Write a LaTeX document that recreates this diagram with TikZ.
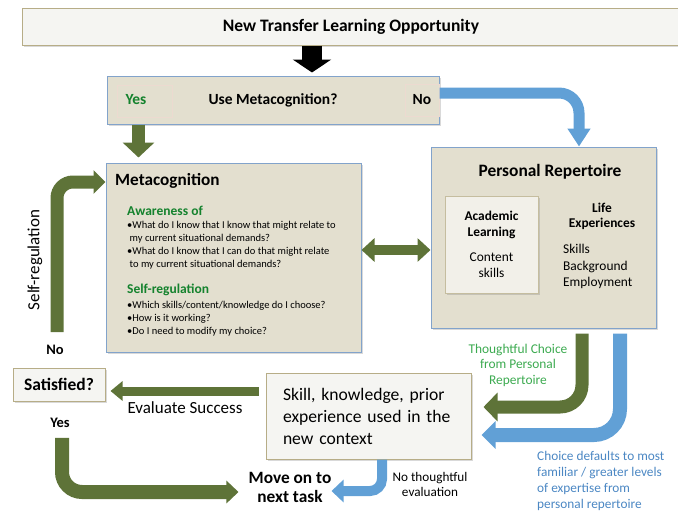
\documentclass[tikz,border=0pt]{standalone}
\usepackage{fontspec}
\setmainfont{Carlito}
\usepackage{xcolor}
\usetikzlibrary{calc}
\usetikzlibrary{positioning,arrows.meta}
\usetikzlibrary{shapes,shadows}
\definecolor{boxfill}{RGB}{227,223,207}
\definecolor{boxline}{RGB}{130,163,203}
\definecolor{tanline}{RGB}{183,173,135}
\definecolor{palefill}{RGB}{245,245,242}
\definecolor{acadfill}{RGB}{242,240,233}
\definecolor{pinkline}{RGB}{236,218,208}
\definecolor{arrowgreen}{RGB}{94,115,56}
\definecolor{arrowblue}{RGB}{97,160,214}
\definecolor{textgreen}{RGB}{20,130,45}
\definecolor{lightgreen}{RGB}{60,170,80}
\definecolor{textblue}{RGB}{75,135,195}
\newcommand{\fsz}[2]{\fontsize{#1}{#2}\selectfont}
\tikzset{
  bluebox/.style={draw=boxline, fill=boxfill, line width=1pt,
    drop shadow={shadow xshift=1.5pt, shadow yshift=-1.5pt, opacity=0.3}},
  palebox/.style={draw=tanline, fill=palefill, line width=1pt,
    drop shadow={shadow xshift=1.5pt, shadow yshift=-1.5pt, opacity=0.3}},
  label/.style={inner sep=0pt},
  greenarrow/.style={draw=arrowgreen, line width=13pt},
  bluearrow/.style={draw=arrowblue, line width=11pt},
}

\begin{document}
\begin{tikzpicture}[x=1pt,y=-1pt]
\useasboundingbox (0,0) rectangle (678,515);

% boxes
\node[palebox, minimum width=658pt, minimum height=37pt] (top) at (351,26.5)
  {\fsz{17.5}{20}\bfseries New Transfer Learning Opportunity};
\node[bluebox, minimum width=332pt, minimum height=48pt] (use) at (273,100)
  {\fsz{15.5}{18}\bfseries Use Metacognition?};
\node[draw=pinkline, line width=0.6pt, minimum width=55pt, minimum height=32pt] (yesbox) at (144.5,101) {};
\node[label, font=\fsz{15.5}{18}\bfseries, text=textgreen] (yes) at (136,100) {Yes};
\node[draw=pinkline, line width=0.6pt, minimum width=34pt, minimum height=32pt,
  font=\fsz{15.5}{18}\bfseries] (nobox) at (422,100) {No};

\node[bluebox, minimum width=255pt, minimum height=189pt] (meta) at (233.5,257.5) {};
\node[label, anchor=west, font=\fsz{17.2}{20}\bfseries] (metatitle) at (115,181) {Metacognition};
\node[label, anchor=north west, align=left, font=\fsz{10.5}{13}] (aware) at (127,205.5)
  {{\fsz{13.5}{13}\bfseries\color{textgreen}Awareness of}\\
   •What do I know that I know that might relate to\\
   \hspace{2.5pt}my current situational demands?\\
   •What do I know that I can do that might relate\\
   \hspace{2.5pt}to my current situational demands?};
\node[label, anchor=north west, align=left, font=\fsz{10.5}{13}] (regul) at (127,283.5)
  {{\fsz{13.5}{15}\bfseries\color{textgreen}Self-regulation}\\[2pt]
   •Which skills/content/knowledge do I choose?\\
   •How is it working?\\
   •Do I need to modify my choice?};

\node[bluebox, minimum width=225pt, minimum height=181pt] (rep) at (543.5,237.5) {};
\node[label, font=\fsz{17.4}{20}\bfseries] (reptitle) at (550,172) {Personal Repertoire};
\node[draw=tanline!80, fill=acadfill, line width=1pt, minimum width=93pt, minimum height=97pt,
  align=center, font=\fsz{13.4}{15.5},
  drop shadow={shadow xshift=1.5pt, shadow yshift=-1.5pt, opacity=0.3}] (acad) at (491.5,244.5)
  {\bfseries Academic\\\bfseries Learning\\[10pt]Content\\skills};
\node[label, align=center, font=\fsz{13.4}{15}\bfseries] (life) at (602,216.5) {Life\\Experiences};
\node[label, anchor=west, align=left, font=\fsz{13.4}{16.5}] (lifelist) at (563,266.5)
  {Skills\\Background\\Employment};

\node[palebox, minimum width=92pt, minimum height=33pt, font=\fsz{17.5}{20}\bfseries] (sat) at (59,384.5) {Satisfied?};
\node[palebox, minimum width=205pt, minimum height=86pt, text width=171pt, align=left,
  font=\fsz{17.6}{22}] (skill) at (368.5,416)
  {Skill, knowledge, prior\\experience used in the\\new context};
\node[label, align=center, font=\fsz{17.3}{19}\bfseries] (move) at (290,487.5) {Move on to\\next task};

% labels
\node[label, rotate=90, font=\fsz{17}{20}] (selfreg) at (35,260) {Self-regulation};
\node[label, font=\fsz{14.5}{17}\bfseries] (nolabel) at (55,350) {No};
\node[label, font=\fsz{14.5}{17}\bfseries] (yeslabel) at (60,423) {Yes};
\node[label, font=\fsz{17}{20}] (evallabel) at (185,408) {Evaluate Success};
\node[label, align=center, font=\fsz{13.2}{15}] (nothought) at (430,484.5) {No thoughtful\\evaluation};
\node[label, align=center, font=\fsz{13.4}{15.5}, text=lightgreen] (thoughtful) at (518,365)
  {Thoughtful Choice\\from Personal\\Repertoire};
\node[label, anchor=west, align=left, font=\fsz{13.3}{16}, text=textblue] (defaults) at (537,481)
  {Choice defaults to most\\familiar / greater levels\\of expertise from\\personal repertoire};

% arrows
\draw[line width=20pt, -{Triangle[width=38pt,length=13pt]}, shorten >=3pt]
  ([xshift=-39pt]top.south) -- ([xshift=39pt]use.north);
\draw[greenarrow, -{Triangle[width=31pt,length=15pt]}, shorten >=5pt]
  ([xshift=-134.5pt]use.south) -- ([xshift=-95pt]meta.north);
\draw[bluearrow, rounded corners=20pt, -{Triangle[width=22pt,length=18pt]}]
  ([yshift=7pt]use.east) -| ([xshift=35.5pt]rep.north);
\draw[greenarrow, line width=10pt, {Triangle[width=23pt,length=13pt]}-{Triangle[width=23pt,length=13pt]}]
  ([yshift=7.5pt]meta.east) -- ([yshift=-12.5pt]rep.west);
\draw[greenarrow, rounded corners=22pt, -{Triangle[width=28pt,length=14pt]}, shorten <=5pt, shorten >=12pt]
  ([xshift=38.5pt]rep.south) |- ([yshift=9pt]skill.east);
\draw[bluearrow, line width=14pt, rounded corners=26pt, -{Triangle[width=27pt,length=14pt]}, shorten <=5pt, shorten >=10pt]
  ([xshift=76.5pt]rep.south) |- ([yshift=-19pt]skill.east);
\draw[greenarrow, line width=9pt, -{Triangle[width=19pt,length=12pt]}, shorten >=5pt]
  ([xshift=-7pt,yshift=25pt]skill.west) -- ([yshift=-6.5pt]sat.east);
\draw[greenarrow, rounded corners=16pt, -{Triangle[width=23pt,length=12pt]}, shorten <=13pt]
  ([xshift=2pt]nolabel.north) |- ([yshift=75.5pt]meta.west);
\draw[greenarrow, line width=14pt, rounded corners=20pt, -{Triangle[width=22pt,length=12pt]}, shorten <=10pt, shorten >=10pt]
  ([xshift=2pt]yeslabel.south) |- ([yshift=-4.5pt]move.west);
\draw[bluearrow, line width=10pt, rounded corners=12pt, -{Triangle[width=22pt,length=12pt]}]
  ([xshift=13.5pt]skill.south) |- ([yshift=-3.5pt]move.east);
\end{tikzpicture}
\end{document}
